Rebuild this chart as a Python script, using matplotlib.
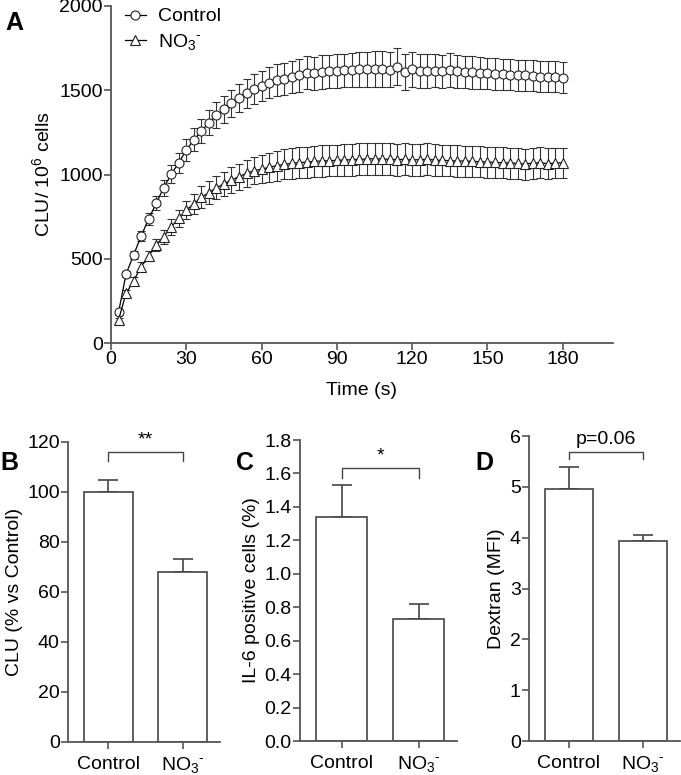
import numpy as np
import matplotlib
matplotlib.use('Agg')
import matplotlib.pyplot as plt

plt.rcParams['font.family'] = ['Liberation Sans', 'DejaVu Sans']
plt.rcParams['mathtext.fontset'] = 'custom'
plt.rcParams['mathtext.rm'] = 'Liberation Sans'

# panel A: kinetics, time points every 3 s
time_s = list(range(3, 181, 3))
ctrl_mean = [182, 409, 522, 635, 736, 829, 922, 1001, 1070, 1145,
             1205, 1258, 1308, 1351, 1387, 1422, 1456, 1482, 1506, 1525,
             1545, 1561, 1569, 1577, 1589, 1604, 1600, 1608, 1612, 1614,
             1618, 1620, 1624, 1624, 1626, 1628, 1622, 1640, 1610, 1624,
             1614, 1614, 1616, 1612, 1620, 1614, 1610, 1606, 1604, 1600,
             1598, 1596, 1593, 1590, 1588, 1585, 1579, 1581, 1581, 1575]
ctrl_sem = [15, 20, 25, 30, 36, 42, 48, 54, 60, 64,
            68, 72, 75, 78, 80, 82, 84, 86, 88, 90,
            92, 94, 95, 96, 97, 98, 98, 99, 100, 100,
            100, 101, 102, 102, 104, 106, 104, 108, 106, 102,
            100, 100, 98, 98, 100, 98, 96, 96, 94, 94,
            94, 92, 92, 92, 92, 92, 92, 92, 90, 90]
no3_mean = [137, 295, 368, 453, 516, 582, 631, 690, 740, 789,
            825, 865, 892, 922, 944, 967, 987, 1007, 1023, 1031,
            1043, 1052, 1060, 1066, 1070, 1074, 1078, 1080, 1082, 1084,
            1086, 1088, 1090, 1092, 1094, 1092, 1090, 1088, 1090, 1086,
            1088, 1090, 1086, 1084, 1082, 1080, 1080, 1078, 1076, 1074,
            1072, 1070, 1068, 1066, 1062, 1068, 1070, 1064, 1068, 1070]
no3_sem = [12, 18, 22, 27, 32, 37, 42, 47, 52, 56,
           60, 64, 67, 70, 73, 76, 78, 80, 82, 84,
           86, 88, 89, 90, 91, 92, 92, 93, 93, 94,
           94, 94, 95, 95, 95, 95, 95, 95, 95, 94,
           94, 94, 94, 94, 93, 93, 92, 92, 92, 92,
           92, 92, 92, 92, 92, 92, 92, 92, 90, 90]

# panels B-D: bar means and SEM
no3_lbl = 'NO$_{3}$$^{\\text{-}}$'
groups = ['Control', no3_lbl]
clu_mean = [100, 68]
clu_sem = [5, 5.3]
il6_mean = [1.34, 0.73]
il6_sem = [0.19, 0.09]
dex_mean = [4.95, 3.93]
dex_sem = [0.44, 0.13]

axc = '#555555'
fs = 14
W, H = 681, 775
fig = plt.figure(figsize=(W / 100, H / 100), dpi=100)


def box(l, t, r, b):
    return [l / W, 1 - b / H, (r - l) / W, (b - t) / H]


def style(ax):
    for s in ['top', 'right']:
        ax.spines[s].set_visible(False)
    for s in ['left', 'bottom']:
        ax.spines[s].set_color(axc)
        ax.spines[s].set_linewidth(1.3)
    ax.tick_params(direction='out', length=5, width=1.2, color=axc,
                   labelsize=fs, pad=1)


# ---- A ----
ax = fig.add_axes(box(111, 6, 613, 343))
style(ax)
ax.errorbar(time_s, ctrl_mean, yerr=ctrl_sem, fmt='-o', color='black',
            mfc='white', mec='#222222', ms=6.5, lw=0.9, mew=0.8,
            ecolor='#333333', elinewidth=0.8, capsize=3, capthick=0.8,
            label='Control', zorder=3)
ax.errorbar(time_s, no3_mean, yerr=no3_sem, fmt='-^', color='black',
            mfc='white', mec='#222222', ms=6.5, lw=0.9, mew=0.8,
            ecolor='#333333', elinewidth=0.8, capsize=3, capthick=0.8,
            label=no3_lbl, zorder=3)
ax.set_xlim(0, 200)
ax.set_ylim(0, 2000)
ax.set_xticks([0, 30, 60, 90, 120, 150, 180])
ax.set_yticks([0, 500, 1000, 1500, 2000])
ax.set_xlabel('Time (s)', fontsize=fs, labelpad=10)
ax.set_ylabel('CLU/ 10$^{6}$ cells', fontsize=fs, labelpad=4)
h, l = ax.get_legend_handles_labels()
h = [x[0] for x in h]
ax.legend(h, l, loc='upper left', bbox_to_anchor=(0.0, 1.035), frameon=False,
          fontsize=fs, handlelength=1.1, handletextpad=0.6, labelspacing=0.35,
          borderaxespad=0.3)
fig.text(5 / W, 1 - 30 / H, 'A', fontsize=18, fontweight='bold')


# ---- bar panels ----
def bars(rect, means, sems, ylim, yticks, ylabel, star, bracket_y, tick_y, letter,
         letter_xy, fmt):
    ax = fig.add_axes(box(*rect))
    style(ax)
    x = np.arange(len(means))
    ax.bar(x, means, width=0.66, color='white', edgecolor='#444444',
           linewidth=1.2, zorder=2)
    ax.errorbar(x, means, yerr=[np.zeros(len(sems)), sems], fmt='none',
                ecolor='#444444', elinewidth=1.2, capsize=7, capthick=1.2,
                zorder=1)
    ax.set_xlim(-0.54, 1.5)
    ax.set_ylim(*ylim)
    ax.set_yticks(yticks)
    ax.set_yticklabels([fmt.format(v) for v in yticks])
    ax.set_xticks(x)
    ax.set_xticklabels(groups)
    ax.tick_params(axis='x', pad=5)
    ax.set_ylabel(ylabel, fontsize=fs, labelpad=3)
    ax.plot([0, 0, 1, 1], [tick_y, bracket_y, bracket_y, tick_y],
            color='#444444', lw=1.0, clip_on=False)
    ax.text(0.5, bracket_y + (ylim[1] - ylim[0]) * 0.012, star, ha='center',
            va='bottom', fontsize=fs)
    fig.text(letter_xy[0] / W, 1 - letter_xy[1] / H, letter, fontsize=18,
             fontweight='bold')


bars((68, 442, 220, 742), clu_mean, clu_sem, (0, 120), list(range(0, 121, 20)),
     'CLU (% vs Control)', '**', 116, 112.5, 'B', (0, 470), '{:.0f}')
bars((300, 440, 457, 741), il6_mean, il6_sem, (0, 1.8),
     [0.0, 0.2, 0.4, 0.6, 0.8, 1.0, 1.2, 1.4, 1.6, 1.8],
     'IL-6 positive cells (%)', '*', 1.63, 1.575, 'C', (236, 470), '{:.1f}')
bars((529, 436, 680, 741), dex_mean, dex_sem, (0, 6), [0, 1, 2, 3, 4, 5, 6],
     'Dextran (MFI)', 'p=0.06', 5.69, 5.54, 'D', (475, 470), '{:.0f}')

fig.savefig('out.png', dpi=100)
